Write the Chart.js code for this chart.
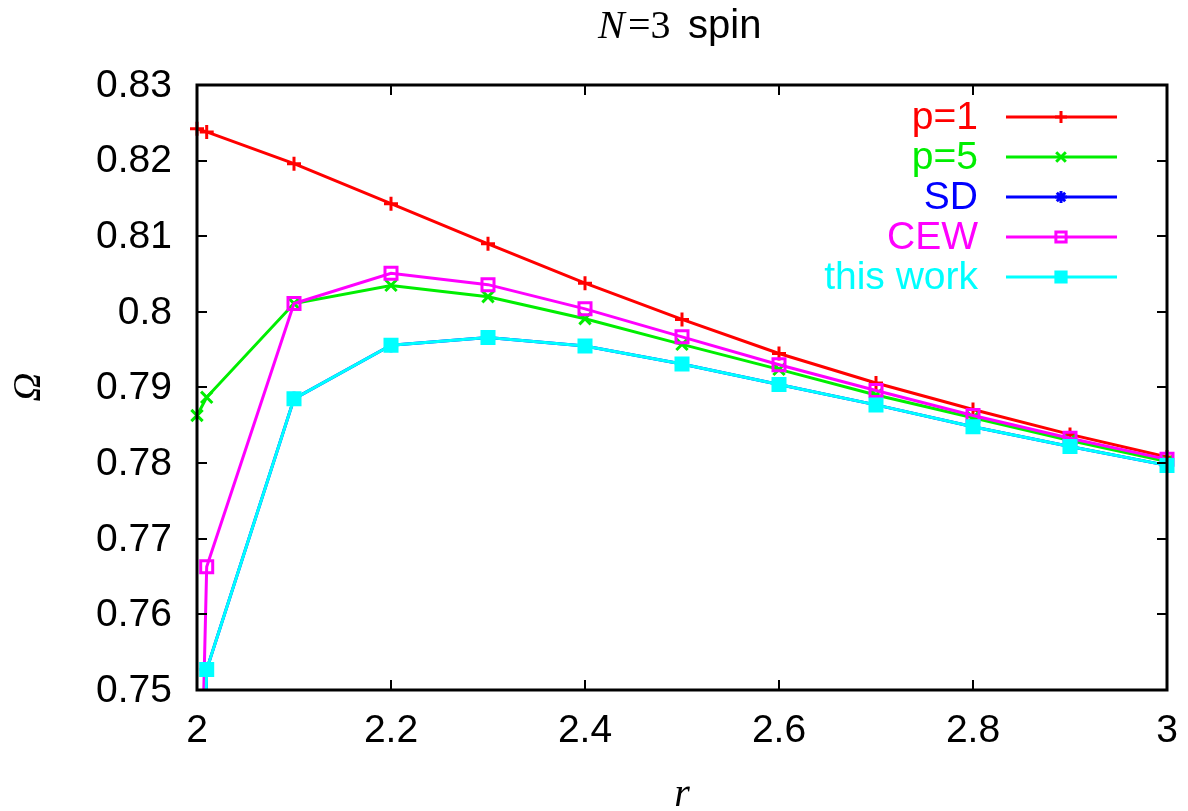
<!DOCTYPE html>
<html>
<head>
<meta charset="utf-8">
<script src="https://cdn.jsdelivr.net/npm/chart.js@4"></script>
<style>
  html, body { margin: 0; padding: 0; background: #fff; }
  #wrap { width: 1188px; height: 811px; }
</style>
</head>
<body>
<div id="wrap"><canvas id="myChart" width="1188" height="811"></canvas></div>
<script>
const r = [2.0, 2.01, 2.1, 2.2, 2.3, 2.4, 2.5, 2.6, 2.7, 2.8, 2.9, 3.0];
const p1 = [0.8242, 0.8238, 0.8196, 0.8143, 0.8090, 0.8038, 0.7990, 0.7945, 0.7906, 0.7871, 0.7838, 0.7808];
const p5 = [0.7863, 0.7887, 0.8011, 0.8035, 0.8020, 0.7991, 0.7957, 0.7924, 0.7890, 0.7860, 0.7830, 0.7802];
const sd = [0.700, 0.7527, 0.7885, 0.7956, 0.7966, 0.7955, 0.7931, 0.7904, 0.7877, 0.7848, 0.7822, 0.7797];
const cew = [0.712, 0.7663, 0.8011, 0.8051, 0.8036, 0.8004, 0.7967, 0.7930, 0.7896, 0.7863, 0.7833, 0.7805];
const thisWork = [0.700, 0.7527, 0.7885, 0.7956, 0.7966, 0.7955, 0.7931, 0.7904, 0.7877, 0.7848, 0.7822, 0.7797];

const labels = ['p=1', 'p=5', 'SD', 'CEW', 'this work'];
const colors = ['#ff0000', '#00ee00', '#0000ff', '#ff00ff', '#00ffff'];
const markers = ['cross', 'crossRot', 'star', 'rect', 'rect'];
const markerSizes = [7, 8, 7, 8.5, 8.5];

const FONT = '"Liberation Sans", Arial, sans-serif';

function pts(arr) {
  return r.map((x, i) => ({ x: x, y: arr[i] }));
}

function makeSet(i, arr) {
  const hollow = i === 3;
  return {
    label: labels[i],
    data: pts(arr),
    borderColor: colors[i],
    backgroundColor: colors[i],
    borderWidth: 3,
    tension: 0,
    pointStyle: markers[i],
    pointRadius: markerSizes[i],
    pointBorderWidth: 3,
    pointBackgroundColor: hollow ? 'rgba(0,0,0,0)' : colors[i],
    pointBorderColor: colors[i],
    order: 5 - i,
    clip: { left: 12, top: 12, right: 12, bottom: 0 }
  };
}

// frame, inward ticks, labels, legend and titles
const decorations = {
  id: 'decorations',
  afterDraw(chart) {
    const ctx = chart.ctx;
    const a = chart.chartArea;
    const xs = chart.scales.x, ys = chart.scales.y;
    ctx.save();

    // tick marks on all four sides
    ctx.strokeStyle = '#000';
    ctx.lineWidth = 2;
    ctx.beginPath();
    ys.ticks.forEach(t => {
      const y = Math.round(ys.getPixelForValue(t.value));
      ctx.moveTo(a.left, y); ctx.lineTo(a.left + 10, y);
      ctx.moveTo(a.right, y); ctx.lineTo(a.right - 10, y);
    });
    xs.ticks.forEach(t => {
      const x = Math.round(xs.getPixelForValue(t.value));
      ctx.moveTo(x, a.bottom); ctx.lineTo(x, a.bottom - 10);
      ctx.moveTo(x, a.top); ctx.lineTo(x, a.top + 10);
    });
    ctx.stroke();

    ctx.lineWidth = 3;
    ctx.strokeRect(a.left, a.top, a.right - a.left, a.bottom - a.top);

    // tick labels
    ctx.fillStyle = '#000';
    ctx.font = '39px ' + FONT;
    ctx.textAlign = 'right';
    ctx.textBaseline = 'middle';
    ys.ticks.forEach(t => {
      ctx.fillText(String(+t.value.toFixed(2)), a.left - 25, ys.getPixelForValue(t.value) + 1);
    });
    ctx.textAlign = 'center';
    xs.ticks.forEach(t => {
      ctx.fillText(String(+t.value.toFixed(1)), xs.getPixelForValue(t.value), a.bottom + 41);
    });

    // legend
    labels.forEach((lab, i) => {
      const y = 117 + i * 40;
      ctx.fillStyle = colors[i];
      ctx.textAlign = 'right';
      ctx.fillText(lab, 978, y + 1);
      ctx.strokeStyle = colors[i];
      ctx.lineWidth = 3;
      ctx.beginPath();
      ctx.moveTo(1006, y); ctx.lineTo(1117, y);
      ctx.stroke();
      const ds = chart.data.datasets[i];
      ctx.lineWidth = ds.pointBorderWidth;
      ctx.fillStyle = ds.pointBackgroundColor;
      Chart.helpers.drawPoint(ctx, { pointStyle: ds.pointStyle, radius: ds.pointRadius * 0.85, rotation: 0, borderWidth: ds.pointBorderWidth }, 1061, y);
    });

    // title: N=3 spin
    ctx.fillStyle = '#000';
    ctx.textAlign = 'left';
    ctx.textBaseline = 'alphabetic';
    ctx.font = 'italic 40px "Liberation Serif", serif';
    ctx.fillText('N', 598, 38);
    ctx.font = '40px "Liberation Serif", serif';
    ctx.fillText('=3', 628, 38);
    ctx.font = '40px ' + FONT;
    ctx.fillText('spin', 688, 38);

    // axis titles
    ctx.font = 'italic 40px "Liberation Serif", serif';
    ctx.textAlign = 'center';
    ctx.fillText('r', 682, 806);
    ctx.translate(40, 387);
    ctx.rotate(-Math.PI / 2);
    ctx.fillText('\u03A9', 0, 0);

    ctx.restore();
  }
};

const ctx = document.getElementById('myChart').getContext('2d');
new Chart(ctx, {
  type: 'line',
  data: {
    datasets: [
      makeSet(0, p1),
      makeSet(1, p5),
      makeSet(2, sd),
      makeSet(3, cew),
      makeSet(4, thisWork)
    ]
  },
  options: {
    responsive: false,
    animation: false,
    events: [],
    layout: { padding: { left: 197, right: 21, top: 85, bottom: 121 } },
    plugins: { legend: { display: false }, tooltip: { enabled: false } },
    scales: {
      x: {
        type: 'linear',
        min: 2, max: 3,
        ticks: { stepSize: 0.2, display: false },
        grid: { display: false },
        border: { display: false },
        afterFit: s => { s.height = 0; }
      },
      y: {
        min: 0.75, max: 0.83,
        ticks: { stepSize: 0.01, display: false },
        grid: { display: false },
        border: { display: false },
        afterFit: s => { s.width = 0; }
      }
    }
  },
  plugins: [decorations]
});
</script>
</body>
</html>
